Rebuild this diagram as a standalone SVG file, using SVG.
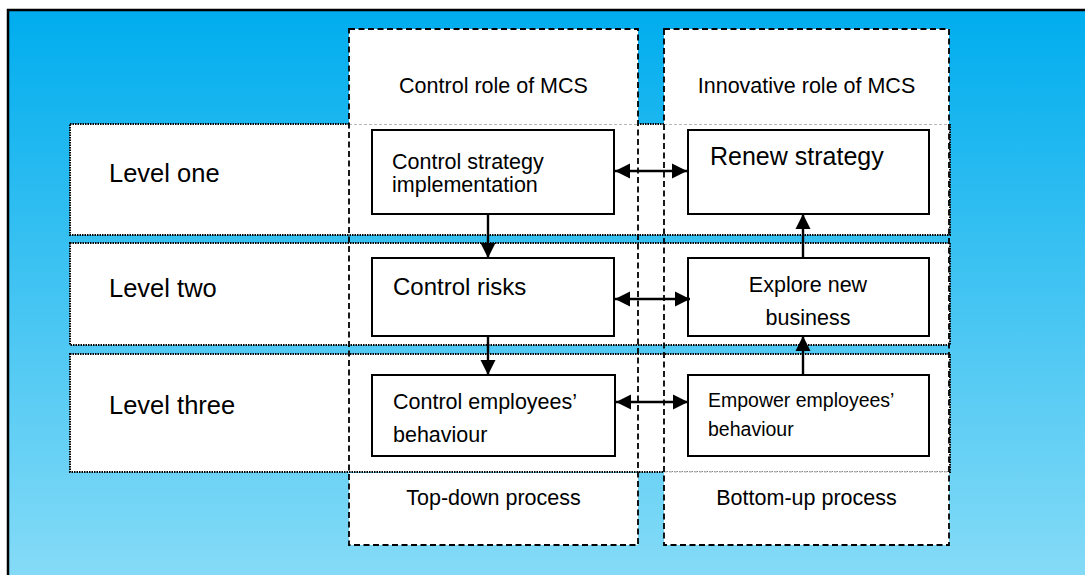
<svg xmlns="http://www.w3.org/2000/svg" width="1085" height="575" viewBox="0 0 1085 575">
<style>
text{font-family:"Liberation Sans",Arial,sans-serif;fill:#000}
.row{fill:#fff;stroke:#000;stroke-width:2;stroke-dasharray:1.5 1}
.colbg{fill:#fff;stroke:none}
.col{fill:none;stroke:#000;stroke-width:1.8;stroke-dasharray:6 3.5}
.faint{stroke:#b8b8b8;stroke-width:1;stroke-dasharray:3 2;fill:none}
.box{fill:#fff;stroke:#000;stroke-width:2}
.arr{stroke:#000;stroke-width:2.4;fill:none}
</style>
<defs>
<linearGradient id="bg" x1="0" y1="0" x2="0" y2="1">
<stop offset="0" stop-color="#00adee"/>
<stop offset="1" stop-color="#88dcf7"/>
</linearGradient>
<marker id="ah" markerWidth="16" markerHeight="16" refX="15" refY="8" orient="auto-start-reverse" markerUnits="userSpaceOnUse">
<path d="M0,0.5 L15,8 L0,15.5 z" fill="#000"/>
</marker>
</defs>
<rect x="0" y="0" width="1085" height="575" fill="#fff"/>
<rect id="background" x="8" y="10" width="1090" height="580" fill="url(#bg)" stroke="#000" stroke-width="2.5"/>

<g id="level-one">
<rect class="row" x="70" y="124" width="880" height="111"/>
<text x="109" y="182" font-size="25.5">Level one</text>
</g>
<g id="level-two">
<rect class="row" x="70" y="243" width="880" height="102"/>
<text x="109" y="297" font-size="25.5">Level two</text>
</g>
<g id="level-three">
<rect class="row" x="70" y="354" width="880" height="118"/>
<text x="109" y="414" font-size="25.5">Level three</text>
</g>

<g id="control-column">
<rect class="colbg" x="349" y="29" width="289" height="96"/>
<rect class="colbg" x="349" y="473" width="289" height="72"/>
<line class="faint" x1="349" y1="124.5" x2="638" y2="124.5"/>
<rect class="col" x="349" y="29" width="289" height="516"/>
<text x="493.5" y="93" font-size="21.5" text-anchor="middle">Control role of MCS</text>
<text x="493.5" y="505" font-size="21.5" text-anchor="middle">Top-down process</text>
</g>
<g id="innovative-column">
<rect class="colbg" x="664" y="29" width="285" height="96"/>
<rect class="colbg" x="664" y="471.5" width="285" height="73.5"/>
<line class="faint" x1="664" y1="124.5" x2="949" y2="124.5"/>
<line class="faint" x1="664" y1="472" x2="949" y2="472"/>
<rect class="col" x="664" y="29" width="285" height="516"/>
<text x="806.5" y="93" font-size="21.5" text-anchor="middle">Innovative role of MCS</text>
<text x="806.5" y="505" font-size="21.5" text-anchor="middle">Bottom-up process</text>
</g>

<g id="control-strategy">
<rect class="box" x="372" y="130" width="242" height="84"/>
<text x="392" y="169" font-size="21.5">Control strategy</text>
<text x="392" y="192" font-size="21.5">implementation</text>
</g>
<g id="renew-strategy">
<rect class="box" x="688" y="130" width="241" height="84"/>
<text x="710" y="165" font-size="25">Renew strategy</text>
</g>
<g id="control-risks">
<rect class="box" x="372" y="258" width="242" height="78"/>
<text x="393" y="295" font-size="24">Control risks</text>
</g>
<g id="explore-new-business">
<rect class="box" x="688" y="258" width="241" height="78"/>
<text x="808" y="292" font-size="21.5" text-anchor="middle">Explore new</text>
<text x="808" y="325" font-size="21.5" text-anchor="middle">business</text>
</g>
<g id="control-employees">
<rect class="box" x="372" y="375" width="243" height="81"/>
<text x="393" y="409" font-size="21.5">Control employees’</text>
<text x="393" y="442" font-size="21.5">behaviour</text>
</g>
<g id="empower-employees">
<rect class="box" x="688" y="375" width="241" height="81"/>
<text x="708" y="407" font-size="19.5">Empower employees’</text>
<text x="708" y="436" font-size="19.5">behaviour</text>
</g>

<g id="connectors">
<line class="arr" x1="615" y1="171" x2="687" y2="171" marker-start="url(#ah)" marker-end="url(#ah)"/>
<line class="arr" x1="615" y1="299" x2="690" y2="299" marker-start="url(#ah)" marker-end="url(#ah)"/>
<line class="arr" x1="616" y1="402" x2="688" y2="402" marker-start="url(#ah)" marker-end="url(#ah)"/>
<line class="arr" x1="488" y1="214" x2="488" y2="258" marker-end="url(#ah)"/>
<line class="arr" x1="488" y1="336" x2="488" y2="375" marker-end="url(#ah)"/>
<line class="arr" x1="803" y1="258" x2="803" y2="214" marker-end="url(#ah)"/>
<line class="arr" x1="803" y1="375" x2="803" y2="336" marker-end="url(#ah)"/>
</g>
</svg>
